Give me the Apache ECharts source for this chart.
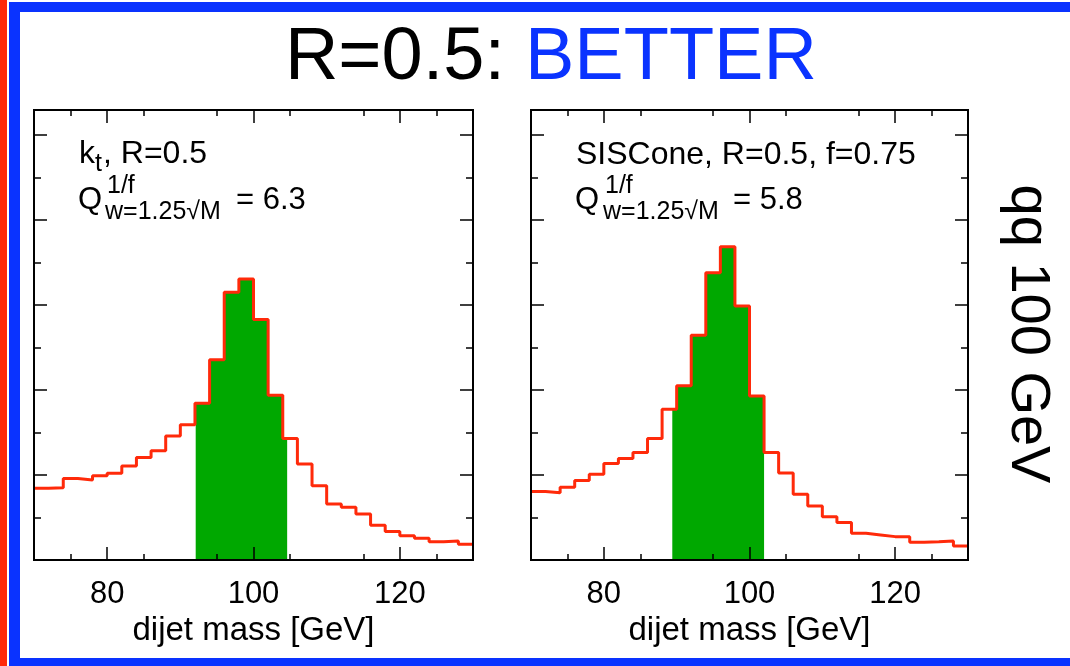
<!DOCTYPE html>
<html>
<head>
<meta charset="utf-8">
<script src="https://cdn.jsdelivr.net/npm/echarts@6/dist/echarts.min.js"></script>
<style>html,body{margin:0;padding:0;background:#fff}#c{width:1070px;height:666px}</style>
</head>
<body>
<div id="c"></div>
<script>
// ---- data ----
const binEdges = [70,72,74,76,78,80,82,84,86,88,90,92,94,96,98,100,102,104,106,108,110,112,114,116,118,120,122,124,126,128,130];
const ktValues = [1.69,1.70,1.92,1.88,1.98,2.04,2.21,2.41,2.57,2.92,3.18,3.69,4.71,6.30,6.61,5.66,3.88,2.86,2.26,1.75,1.32,1.24,1.08,0.82,0.67,0.57,0.51,0.43,0.45,0.37];
const sisValues = [1.61,1.58,1.71,1.87,2.02,2.27,2.39,2.53,2.86,3.55,4.10,5.29,6.76,7.37,5.98,3.86,2.53,2.05,1.55,1.27,1.02,0.88,0.63,0.59,0.55,0.55,0.42,0.43,0.45,0.33];
const ktWindow = [92.1, 104.6];
const sisWindow = [89.4, 102.0];
const xMajorTicks = [80,100,120];
const xMinorTicks = [75,85,95,105,115,125];
const yMajorTicks = [0,2,4,6,8,10];
const yMinorTicks = [1,3,5,7,9];
const xLabel = 'dijet mass [GeV]';
const titleLeft = 'R=0.5:';
const titleRight = 'BETTER';
const sideLabel = 'qq 100 GeV';
const ktLine1 = ['k', 't', ', R=0.5'];
const sisLine1 = 'SISCone, R=0.5, f=0.75';
const qSup = '1/f';
const qSub = 'w=1.25\u221AM';
const ktQ = '= 6.3';
const sisQ = '= 5.8';

const FONT = "'Liberation Sans', Arial, Helvetica, sans-serif";
const RED = '#ff2a0a';
const GREEN = '#00a800';
const BLUE = '#0a33ff';
const X_MIN = 70, X_MAX = 130, Y_MIN = 0, Y_MAX = 10.59;

const grids = [
  {left: 34, top: 110, width: 439, height: 450},
  {left: 531, top: 110, width: 437, height: 450}
];

const xAxes = [], yAxes = [];
grids.forEach((g, gi) => {
  const base = {gridIndex: gi, type: 'value', min: X_MIN, max: X_MAX, z: 10,
    splitLine: {show: false},
    axisLine: {show: true, onZero: false, lineStyle: {color: '#000', width: 2}}};
  xAxes.push(Object.assign({}, base, {position: 'bottom',
    axisTick: {show: true, inside: true, length: 6, customValues: xMinorTicks, lineStyle: {color: '#000', width: 1.5}},
    axisLabel: {show: false}}));
  xAxes.push(Object.assign({}, base, {position: 'bottom',
    name: xLabel, nameLocation: 'middle', nameGap: 52,
    nameTextStyle: {fontFamily: FONT, fontSize: 33, color: '#000'},
    axisTick: {show: true, inside: true, length: 13, customValues: xMajorTicks, lineStyle: {color: '#000', width: 1.5}},
    axisLabel: {show: true, customValues: xMajorTicks, margin: 19, fontFamily: FONT, fontSize: 31, color: '#000'}}));
  xAxes.push(Object.assign({}, base, {position: 'top',
    axisTick: {show: true, inside: true, length: 6, customValues: xMinorTicks, lineStyle: {color: '#000', width: 1.5}},
    axisLabel: {show: false}}));
  xAxes.push(Object.assign({}, base, {position: 'top',
    axisTick: {show: true, inside: true, length: 13, customValues: xMajorTicks, lineStyle: {color: '#000', width: 1.5}},
    axisLabel: {show: false}}));

  const ybase = {gridIndex: gi, type: 'value', min: Y_MIN, max: Y_MAX, z: 10,
    splitLine: {show: false}, axisLabel: {show: false},
    axisLine: {show: true, onZero: false, lineStyle: {color: '#000', width: 2}}};
  ['left', 'right'].forEach(pos => {
    yAxes.push(Object.assign({}, ybase, {position: pos,
      axisTick: {show: true, inside: true, length: 7, customValues: yMinorTicks, lineStyle: {color: '#000', width: 1.5}}}));
    yAxes.push(Object.assign({}, ybase, {position: pos,
      axisTick: {show: true, inside: true, length: 13, customValues: yMajorTicks, lineStyle: {color: '#000', width: 1.5}}}));
  });
});

function stepData(vals) {
  const d = vals.map((v, i) => [binEdges[i], v]);
  d.push([binEdges[binEdges.length - 1], vals[vals.length - 1]]);
  return d;
}
// points of the histogram restricted to the mass window
function windowData(vals, win) {
  const d = [];
  let last = null;
  vals.forEach((v, i) => {
    const lo = Math.max(binEdges[i], win[0]);
    const hi = Math.min(binEdges[i + 1], win[1]);
    if (hi > lo) { d.push([lo, v]); last = [hi, v]; }
  });
  if (last) d.push(last);
  return d;
}

const series = [];
[[ktValues, ktWindow], [sisValues, sisWindow]].forEach((pair, gi) => {
  series.push({type: 'line', xAxisIndex: gi * 4 + 1, yAxisIndex: gi * 4 + 1, z: 2,
    step: 'end', symbol: 'none', data: windowData(pair[0], pair[1]),
    lineStyle: {width: 0, color: GREEN}, areaStyle: {color: GREEN, opacity: 1}, silent: true});
  series.push({type: 'line', xAxisIndex: gi * 4 + 1, yAxisIndex: gi * 4 + 1, z: 3,
    step: 'end', symbol: 'none', data: stepData(pair[0]),
    lineStyle: {color: RED, width: 3}, silent: true});
});

function txt(x, y, s, size, extra) {
  return {type: 'text', x: x, y: y, z: 100,
    style: Object.assign({text: s, fontFamily: FONT, fontSize: size, fill: '#000'}, extra || {})};
}

const graphic = [
  {type: 'rect', shape: {x: 0, y: 0, width: 7, height: 666}, style: {fill: RED}, z: 50},
  {type: 'rect', shape: {x: 9, y: 2, width: 11, height: 664}, style: {fill: BLUE}, z: 50},
  {type: 'rect', shape: {x: 9, y: 2, width: 1061, height: 10}, style: {fill: BLUE}, z: 50},
  {type: 'rect', shape: {x: 9, y: 658, width: 1061, height: 8}, style: {fill: BLUE}, z: 50},
  // title
  txt(505, 22, titleLeft, 74, {textAlign: 'right'}),
  txt(525, 22, titleRight, 74, {fill: BLUE}),
  // side label
  {type: 'text', x: 1027, y: 334, rotation: -Math.PI / 2, z: 100, style: {
    text: sideLabel, fontFamily: FONT, fontSize: 56, fill: '#000', textAlign: 'center', textVerticalAlign: 'middle'}},
  // left annotation
  txt(79, 138, ktLine1[0], 32),
  txt(95, 152, ktLine1[1], 25),
  txt(103, 138, ktLine1[2], 32),
  txt(78, 185, 'Q', 31),
  txt(107, 174, qSup, 25),
  txt(105, 200, qSub, 25),
  txt(236, 185, ktQ, 31),
  // right annotation
  txt(576, 139, sisLine1, 32),
  txt(575, 185, 'Q', 31),
  txt(605, 174, qSup, 25),
  txt(603, 200, qSub, 25),
  txt(733, 185, sisQ, 31)
];

const chart = echarts.init(document.getElementById('c'), null, {renderer: 'canvas'});
chart.setOption({
  animation: false,
  backgroundColor: '#fff',
  grid: grids.map(g => Object.assign({containLabel: false}, g)),
  xAxis: xAxes,
  yAxis: yAxes,
  series: series,
  graphic: graphic
});
</script>
</body>
</html>
